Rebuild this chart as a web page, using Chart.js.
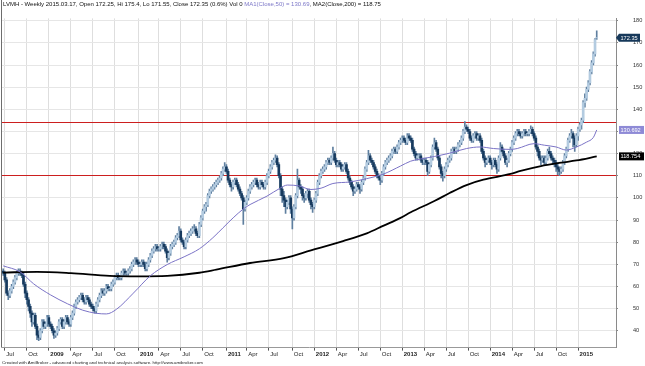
<!DOCTYPE html>
<html>
<head>
<meta charset="utf-8">
<script src="https://cdn.jsdelivr.net/npm/chart.js@4.4.1/dist/chart.umd.min.js"></script>
<style>
  html, body { margin: 0; padding: 0; background: #fff; }
  canvas { display: block; }
</style>
</head>
<body>
<canvas id="chart" width="645" height="366"></canvas>
<script>
/* =========================
   DATA (weekly bars, 2008-06-27 .. 2015-03-17)
========================= */
const weekOpen = [
  67, 66, 63, 57, 56, 58, 60, 62, 64, 66,
  67, 66, 65, 61, 57, 54, 51, 48, 44, 47,
  42, 38, 37, 40, 44, 42, 43, 46, 43, 42,
  40, 38, 39, 41, 44, 45, 42, 44, 46, 44,
  43, 46, 48, 51, 53, 54, 55, 56, 54, 53,
  55, 54, 52, 51, 50, 49, 52, 54, 56, 58,
  57, 58, 60, 59, 59, 61, 62, 64, 65, 64,
  64, 66, 67, 66, 66, 67, 68, 70, 71, 72,
  71, 70, 70, 71, 70, 68, 70, 72, 74, 76,
  77, 78, 77, 77, 78, 79, 78, 76, 73, 75,
  78, 79, 80, 82, 83, 85, 81, 80, 78, 81,
  83, 84, 85, 86, 86, 84, 83, 88, 91, 94,
  96, 97, 101, 103, 104, 105, 106, 107, 108, 109,
  111, 113, 114, 112, 108, 106, 105, 107, 108, 106,
  104, 102, 100, 95, 98, 100, 103, 105, 106, 107,
  108, 106, 105, 107, 106, 105, 107, 110, 112, 114,
  116, 117, 118, 115, 110, 104, 101, 99, 96, 98,
  100, 95, 91, 96, 101, 108, 105, 104, 101, 100,
  102, 103, 99, 97, 96, 99, 102, 107, 110, 112,
  113, 114, 116, 117, 116, 118, 120, 117, 115, 116,
  115, 113, 114, 115, 112, 109, 107, 105, 103, 104,
  106, 105, 104, 107, 109, 113, 116, 119, 117, 116,
  114, 112, 110, 109, 108, 111, 114, 116, 117, 118,
  119, 121, 122, 121, 123, 125, 126, 127, 126, 125,
  128, 127, 126, 122, 120, 118, 119, 119, 117, 116,
  117, 116, 112, 115, 118, 123, 125, 122, 118, 114,
  111, 110, 113, 115, 117, 118, 121, 122, 121, 122,
  124, 125, 127, 130, 132, 131, 130, 127, 126, 128,
  129, 127, 128, 126, 121, 118, 116, 117, 118, 116,
  115, 117, 115, 113, 118, 123, 121, 119, 116, 117,
  120, 122, 125, 127, 129, 130, 129, 128, 129, 130,
  129, 129, 130, 131, 129, 127, 123, 121, 118, 117,
  118, 116, 118, 121, 120, 118, 117, 116, 114, 113,
  112, 113, 116, 119, 122, 126, 128, 129, 127, 124,
  128, 131, 133, 135, 143, 145, 149, 152, 157, 161,
  165, 172.25
];
const weekHigh = [
  68, 67, 64, 58, 59, 61, 63, 65, 67, 68,
  68, 67, 66, 62, 58, 55, 52, 49, 48, 48,
  43, 40, 41, 45, 45, 44, 47, 47, 44, 43,
  41, 40, 42, 45, 46, 46, 45, 47, 47, 45,
  47, 49, 52, 54, 55, 56, 57, 57, 55, 56,
  56, 55, 53, 52, 51, 53, 55, 57, 59, 59,
  59, 61, 61, 60, 62, 63, 65, 66, 66, 65,
  67, 68, 68, 67, 68, 69, 71, 72, 73, 73,
  72, 71, 72, 72, 71, 71, 73, 75, 77, 78,
  79, 79, 78, 79, 80, 80, 79, 77, 76, 79,
  80, 81, 83, 84, 87, 86, 82, 81, 82, 84,
  85, 86, 87, 88, 87, 85, 89, 92, 95, 97,
  98, 102, 104, 105, 106, 107, 108, 109, 110, 112,
  114, 116, 115, 113, 109, 107, 108, 109, 109, 107,
  105, 103, 101, 99, 101, 104, 106, 107, 108, 109,
  109, 107, 108, 108, 107, 108, 111, 113, 115, 117,
  118, 119.5, 119, 116, 111, 105, 103, 100, 99, 101,
  101, 96, 97, 102, 113, 109, 106, 105, 102, 103,
  104, 104, 100, 98, 100, 103, 108, 111, 113, 114,
  115, 117, 118, 118, 119, 123, 121, 118, 117, 117,
  116, 115, 116, 116, 113, 110, 108, 106, 105, 107,
  107, 106, 108, 110, 114, 117, 121.5, 120, 118, 117,
  115, 113, 111, 110, 112, 115, 117, 118, 119, 120,
  122, 123, 123, 124, 126, 127, 128, 128, 127, 129,
  129, 128, 127, 123, 121, 120, 120, 120, 118, 118,
  118, 117, 116, 119, 124, 127, 126, 123, 119, 115,
  112, 114, 116, 118, 119, 122, 123, 123, 123, 125,
  126, 128, 131, 134.5, 133, 132, 131, 128, 129, 130,
  130, 129, 129, 127, 122, 119, 118, 119, 119, 117,
  118, 118, 116, 119, 125, 124, 122, 120, 118, 121,
  123, 126, 128, 130, 131, 131, 130, 130, 131, 131,
  130, 131, 132.5, 132, 130, 128, 124, 122, 119, 119,
  119, 119, 122, 123, 121, 119, 118, 117, 115, 114,
  114, 117, 120, 123, 127, 129, 131, 130, 128, 129,
  132, 134, 136, 144, 147, 150, 153, 158, 162, 166,
  172, 175.4
];
const weekLow = [
  65, 62, 56, 54, 55, 57, 59, 61, 63, 65,
  65, 64, 60, 55, 52, 49, 46, 42, 43, 41,
  36, 35.5, 36, 39, 41, 41, 42, 42, 41, 39,
  36.5, 37, 38, 40, 43, 41, 41, 43, 43, 42,
  42, 45, 47, 50, 52, 53, 54, 53, 52, 52,
  53, 51, 50, 49, 48, 48, 51, 53, 55, 56,
  56, 57, 58, 58, 58, 60, 61, 63, 63, 63,
  63, 65, 65, 65, 65, 66, 67, 69, 70, 70,
  69, 69, 69, 69, 67, 67, 69, 71, 73, 75,
  76, 76, 76, 76, 77, 77, 75, 71, 72, 74,
  77, 78, 79, 81, 82, 80, 79, 77, 77, 80,
  82, 83, 84, 85, 83, 82, 82, 87, 90, 93,
  94, 96, 100, 102, 103, 104, 105, 106, 107, 108,
  110, 112, 111, 107, 105, 103, 104, 106, 105, 103,
  101, 99, 88, 94, 97, 99, 102, 104, 105, 106,
  105, 104, 104, 105, 104, 104, 106, 109, 111, 113,
  115, 116, 114, 109, 101, 98, 96, 93, 95, 97,
  93, 86, 90, 95, 100, 104, 102, 99, 98, 99,
  100, 98, 95, 93.5, 95, 98, 101, 106, 109, 111,
  112, 113, 115, 115, 115, 117, 116, 114, 114, 114,
  112, 112, 113, 111, 108, 106, 104, 101, 102, 103,
  104, 102, 103, 106, 108, 112, 115, 116, 115, 113,
  111, 109, 108, 106, 107, 110, 113, 115, 116, 117,
  118, 120, 120, 120, 122, 124, 125, 125, 124, 124,
  126, 125, 121, 119, 117, 117, 118, 116, 115, 115,
  115, 110, 111, 114, 117, 122, 121, 117, 113, 109,
  107.5, 109, 112, 114, 116, 117, 120, 120, 120, 121,
  123, 124, 126, 129, 130, 129, 126, 125, 125, 127,
  126, 126, 125, 120, 117, 114, 115, 116, 115, 113,
  114, 114, 111, 112, 117, 120, 118, 115, 114, 116,
  119, 121, 124, 126, 128, 128, 127, 127, 128, 128,
  128, 128, 129, 128, 126, 122, 119, 117, 115, 116,
  115, 115, 117, 119, 117, 115, 114, 112, 110.5, 110,
  111, 112, 115, 118, 121, 125, 127, 123, 121, 123,
  126, 130, 131, 134, 141, 144, 148, 151, 156, 160,
  164, 171.55
];
const weekClose = [
  66, 63, 57, 56, 58, 60, 62, 64, 66, 67,
  66, 65, 61, 57, 54, 51, 48, 44, 47, 42,
  38, 37, 40, 44, 42, 43, 46, 43, 42, 40,
  38, 39, 41, 44, 45, 42, 44, 46, 44, 43,
  46, 48, 51, 53, 54, 55, 56, 54, 53, 55,
  54, 52, 51, 50, 49, 52, 54, 56, 58, 57,
  58, 60, 59, 59, 61, 62, 64, 65, 64, 64,
  66, 67, 66, 66, 67, 68, 70, 71, 72, 71,
  70, 70, 71, 70, 68, 70, 72, 74, 76, 77,
  78, 77, 77, 78, 79, 78, 76, 73, 75, 78,
  79, 80, 82, 83, 85, 81, 80, 78, 81, 83,
  84, 85, 86, 86, 84, 83, 88, 91, 94, 96,
  97, 101, 103, 104, 105, 106, 107, 108, 109, 111,
  113, 114, 112, 108, 106, 105, 107, 108, 106, 104,
  102, 100, 95, 98, 100, 103, 105, 106, 107, 108,
  106, 105, 107, 106, 105, 107, 110, 112, 114, 116,
  117, 118, 115, 110, 104, 101, 99, 96, 98, 100,
  95, 91, 96, 101, 108, 105, 104, 101, 100, 102,
  103, 99, 97, 96, 99, 102, 107, 110, 112, 113,
  114, 116, 117, 116, 118, 120, 117, 115, 116, 115,
  113, 114, 115, 112, 109, 107, 105, 103, 104, 106,
  105, 104, 107, 109, 113, 116, 119, 117, 116, 114,
  112, 110, 109, 108, 111, 114, 116, 117, 118, 119,
  121, 122, 121, 123, 125, 126, 127, 126, 125, 128,
  127, 126, 122, 120, 118, 119, 119, 117, 116, 117,
  116, 112, 115, 118, 123, 125, 122, 118, 114, 111,
  110, 113, 115, 117, 118, 121, 122, 121, 122, 124,
  125, 127, 130, 132, 131, 130, 127, 126, 128, 129,
  127, 128, 126, 121, 118, 116, 117, 118, 116, 115,
  117, 115, 113, 118, 123, 121, 119, 116, 117, 120,
  122, 125, 127, 129, 130, 129, 128, 129, 130, 129,
  129, 130, 131, 129, 127, 123, 121, 118, 117, 118,
  116, 118, 121, 120, 118, 117, 116, 114, 113, 112,
  113, 116, 119, 122, 126, 128, 129, 127, 124, 128,
  131, 133, 135, 143, 145, 149, 152, 157, 161, 165,
  171.5, 172.35
];

// moving averages (bar index -> value)
const ma50Bars = [0, 10, 18, 28, 38, 47, 55, 61, 67, 77, 87, 97, 107, 116, 124, 130, 136, 142, 146, 156,
  164, 168, 175, 182, 188, 195, 205, 215, 225, 235, 241, 245, 255, 264, 274, 282, 290, 300, 304, 314,
  320, 327, 333, 339, 345, 349, 351];
const ma50Values = [69.3, 66.6, 61.2, 56.2, 52.2, 49.3, 47.9, 47.6, 49.7, 57, 64.8, 69.9, 73.4, 77, 82, 86.5, 91, 95, 97, 100.8,
  104.5, 105.8, 105.4, 103.8, 104.4, 106.5, 107.2, 108.7, 110.8, 114.4, 116.6, 117.3, 118.7, 120.2, 122.3, 123, 122.3, 121.9, 122.3, 124.5,
  123.8, 123, 121.6, 123, 125.2, 127.3, 130.69];
const ma200Bars = [0, 20, 40, 63, 80, 97, 116, 126, 146, 166, 182, 201, 215, 225, 235, 241, 255, 264, 274, 284,
  300, 306, 318, 330, 339, 351];
const ma200Values = [66.3, 66.6, 66.0, 64.8, 64.6, 64.8, 66.2, 67.6, 70.6, 72.8, 76.3, 80.5, 84, 87.5, 91, 93.5, 98.6, 102.2, 105.8, 108.2,
  110.8, 112.2, 114.4, 115.9, 116.9, 118.75];

// horizontal levels (red)
const levelLines = [134.5, 110.2];

// x axis: bar index of the first week of each quarter
const tickBars = [1, 14, 27, 40, 53, 66, 80, 92, 105, 118, 132, 144, 157, 171, 184, 197, 210, 223, 236, 249, 262, 275, 288, 301, 314, 327, 340];
const tickLabels = ["Jul", "Oct", "2009", "Apr", "Jul", "Oct", "2010", "Apr", "Jul", "Oct", "2011", "Apr", "Jul", "Oct",
  "2012", "Apr", "Jul", "Oct", "2013", "Apr", "Jul", "Oct", "2014", "Apr", "Jul", "Oct", "2015"];
const yTicks = [40, 50, 60, 70, 80, 90, 100, 110, 120, 130, 140, 150, 160, 170, 180];

const xMin = -0.7, xMax = 362.4;
const yMin = 32.38, yMax = 181.08;

const FONT = "'Liberation Sans', Arial, sans-serif";

/* =========================
   HEADER / TAGS / FOOTER
========================= */
const titleParts = [
  { text: "LVMH - Weekly 2015.03.17, Open 172.25, Hi 175.4, Lo 171.55, Close 172.35 (0.6%) Vol 0 ", color: "#111" },
  { text: "MA1(Close,50) = 130.69", color: "#7d78c8" },
  { text: ", MA2(Close,200) = 118.75", color: "#111" }
];
const valueTags = [
  { text: "172.35", value: 172.35, bg: "#16385a", fg: "#ffffff", arrow: true },
  { text: "130.692", value: 130.69, bg: "#8e8ad6", fg: "#ffffff", arrow: false },
  { text: "118.754", value: 118.754, bg: "#000000", fg: "#ffffff", arrow: false }
];
const creditText = "Created with AmiBroker - advanced charting and technical analysis software. http://www.amibroker.com";

// red support / resistance levels, drawn under the bars
const levels = {
  id: "levels",
  beforeDatasetsDraw(chart) {
    const ctx = chart.ctx;
    const area = chart.chartArea;
    const ys = chart.scales.y;
    ctx.save();
    ctx.strokeStyle = "#cc1f1f";
    ctx.lineWidth = 1;
    levelLines.forEach(v => {
      const py = Math.round(ys.getPixelForValue(v)) + 0.5;
      ctx.beginPath();
      ctx.moveTo(area.left, py);
      ctx.lineTo(area.right, py);
      ctx.stroke();
    });
    ctx.restore();
  }
};

const overlay = {
  id: "overlay",
  afterDraw(chart) {
    const ctx = chart.ctx;
    const area = chart.chartArea;
    const ys = chart.scales.y;
    ctx.save();

    // left frame line
    ctx.strokeStyle = "#6d6d6d";
    ctx.lineWidth = 1;
    ctx.beginPath();
    ctx.moveTo(area.left - 0.5, 0);
    ctx.lineTo(area.left - 0.5, area.bottom);
    ctx.stroke();

    // title line
    ctx.font = "6px " + FONT;
    ctx.textBaseline = "middle";
    let tx = 3;
    titleParts.forEach(p => {
      ctx.fillStyle = p.color;
      ctx.fillText(p.text, tx, 4.5);
      tx += ctx.measureText(p.text).width;
    });

    // value tags on the price axis
    ctx.font = "5.6px " + FONT;
    valueTags.forEach(tag => {
      const py = ys.getPixelForValue(tag.value);
      const left = area.right + 3;
      const w = 25, h = 8;
      ctx.fillStyle = tag.bg;
      ctx.beginPath();
      if (tag.arrow) {
        ctx.moveTo(area.right, py);
        ctx.lineTo(left, py - h / 2);
        ctx.lineTo(left + w - 4, py - h / 2);
        ctx.lineTo(left + w - 4, py + h / 2);
        ctx.lineTo(left, py + h / 2);
      } else {
        ctx.rect(left, py - h / 2, w, h);
      }
      ctx.closePath();
      ctx.fill();
      ctx.fillStyle = tag.fg;
      ctx.textAlign = "left";
      ctx.fillText(tag.text, left + 1.5, py + 0.5);
    });

    // credit line
    ctx.font = "4.4px " + FONT;
    ctx.fillStyle = "#222";
    ctx.textAlign = "left";
    ctx.fillText(creditText, 2, 363);
    ctx.restore();
  }
};

/* =========================
   CHART
========================= */
const upBody = "#b3cbe0";
const downBody = "#173a5e";

const wickData = weekLow.map((lo, i) => ({ x: i, y: [lo, weekHigh[i]] }));
const bodyData = weekOpen.map((o, i) => ({ x: i, y: [o, weekClose[i]] }));
const bodyColors = weekOpen.map((o, i) => (weekClose[i] >= o ? upBody : downBody));

const ctx = document.getElementById("chart");

new Chart(ctx, {
  type: "bar",
  data: {
    datasets: [
      {
        type: "line",
        data: ma50Bars.map((b, i) => ({ x: b, y: ma50Values[i] })),
        borderColor: "#7b73c6",
        borderWidth: 1,
        pointRadius: 0,
        cubicInterpolationMode: "monotone",
        order: 0
      },
      {
        type: "line",
        data: ma200Bars.map((b, i) => ({ x: b, y: ma200Values[i] })),
        borderColor: "#000000",
        borderWidth: 1.8,
        pointRadius: 0,
        cubicInterpolationMode: "monotone",
        order: 0
      },
      {
        type: "bar",
        data: bodyData,
        backgroundColor: bodyColors,
        barThickness: 2,
        grouped: false,
        order: 2
      },
      {
        type: "bar",
        data: wickData,
        backgroundColor: "#5f7f9f",
        barThickness: 1,
        grouped: false,
        order: 3
      }
    ]
  },
  options: {
    responsive: false,
    animation: false,
    devicePixelRatio: 1,
    events: [],
    layout: { padding: { left: 2, top: 7, right: 0, bottom: 0 } },
    plugins: { legend: { display: false }, tooltip: { enabled: false } },
    scales: {
      x: {
        type: "linear",
        min: xMin,
        max: xMax,
        offset: false,
        afterBuildTicks: s => { s.ticks = tickBars.map(v => ({ value: v })); },
        afterFit: s => { s.height = 14; },
        grid: { color: "#dedede", offset: false, tickLength: 3, tickColor: "#555" },
        border: { color: "#999" },
        ticks: {
          autoSkip: false,
          maxRotation: 0,
          align: "start",
          labelOffset: 1.5,
          padding: 0,
          color: "#222",
          font: c => ({
            family: FONT,
            size: 6,
            weight: c.tick && /^\d{4}$/.test(tickLabels[tickBars.indexOf(c.tick.value)]) ? "bold" : "normal"
          }),
          callback: v => tickLabels[tickBars.indexOf(v)]
        }
      },
      y: {
        position: "right",
        min: yMin,
        max: yMax,
        afterBuildTicks: s => { s.ticks = yTicks.map(v => ({ value: v })); },
        afterFit: s => { s.width = 29; },
        grid: { color: "#e6e6e6", tickLength: 2, tickColor: "#888" },
        border: { color: "#8a8a8a" },
        ticks: {
          padding: 15,
          color: "#333",
          font: { family: FONT, size: 5.6 }
        }
      }
    }
  },
  plugins: [levels, overlay]
});
</script>
</body>
</html>
